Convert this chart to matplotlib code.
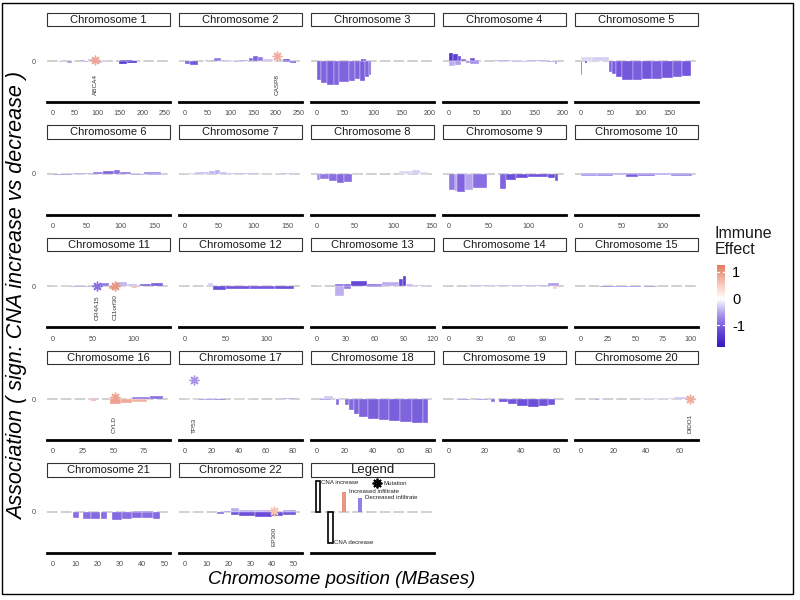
import matplotlib
matplotlib.use("Agg")
import matplotlib.pyplot as plt
from matplotlib.colors import LinearSegmentedColormap, Normalize
from matplotlib.cm import ScalarMappable
from matplotlib.patches import Rectangle

plt.rcParams['font.family'] = ['Liberation Sans', 'DejaVu Sans']
plt.rcParams['axes.unicode_minus'] = False

# ---------------- data ----------------
# chromosome lengths (Mb) and x tick steps
chrom_len = [249, 245, 198, 196, 188, 165, 163, 146, 140, 136, 138, 136,
             116, 107, 102, 92, 83, 80, 62, 68, 50, 51]
tick_step = [50, 50, 50, 50, 50, 50, 50, 50, 50, 50, 50, 50,
             30, 30, 25, 25, 20, 20, 20, 20, 10, 10]

# segments: (start Mb, end Mb, association, immune effect)
seg_1 = [(14, 22, -0.12, -0.6), (22, 30, 0.10, -0.5), (32, 44, -0.15, -0.7),
         (63, 70, 0.15, -0.9), (70, 78, -0.10, -0.7), (78, 92, 0.20, -0.4),
         (92, 110, -0.20, -0.5), (110, 123, -0.12, -0.4), (148, 165, -0.25, -1.6),
         (165, 188, -0.20, -1.7), (150, 180, 0.08, -1.5)]
seg_2 = [(0, 12, -0.30, -1.1), (12, 29, -0.38, -1.2), (44, 52, 0.06, -0.6),
         (58, 65, 0.12, -0.8), (65, 80, 0.35, -0.9), (80, 95, 0.15, -0.5),
         (95, 107, 0.10, -0.4), (107, 120, -0.08, -0.6), (120, 138, 0.12, -0.7),
         (141, 150, 0.30, -1.0), (150, 160, 0.55, -1.1), (160, 172, 0.40, -0.9),
         (172, 193, 0.20, -0.35), (216, 232, 0.20, -1.2), (232, 245, -0.15, -1.3),
         (216, 240, -0.12, -1.1)]
seg_3 = [(0, 7, -1.9, -1.1), (7, 18, -2.2, -1.1), (18, 31, -2.35, -1.15),
         (31, 39, -2.4, -1.1), (39, 57, -2.1, -1.1), (57, 68, -1.95, -1.05),
         (68, 77, -1.75, -1.1), (77, 86, -1.95, -1.15), (86, 92, -1.6, -1.1),
         (92, 96, -1.4, -1.0), (78, 84, 0.25, -1.5), (84, 88, 0.18, -1.3)]
seg_4 = [(0, 8, 0.8, -1.65), (8, 16, 0.7, -1.5), (16, 22, 0.5, -1.3),
         (0, 12, -0.45, -0.5), (12, 22, -0.35, -0.6), (22, 30, 0.25, -1.0),
         (30, 37, -0.15, -0.8), (37, 46, 0.35, -1.2), (46, 53, 0.15, -1.0),
         (37, 53, -0.25, -0.7), (80, 110, 0.06, -0.6), (110, 140, -0.08, -0.5),
         (140, 170, 0.06, -0.6), (170, 192, -0.12, -0.7), (186, 190, -0.3, -0.6)]
seg_5 = [(0, 20, 0.45, -0.25), (20, 48, 0.40, -0.3), (1, 3, -1.4, -1.2),
         (8, 11, -0.15, -1.7), (47, 52, -1.1, -1.1), (52, 59, -1.3, -1.15),
         (59, 70, -1.55, -1.2), (70, 88, -1.85, -1.2), (88, 104, -1.9, -1.15),
         (104, 120, -1.8, -1.2), (120, 137, -1.75, -1.15), (137, 155, -1.65, -1.2),
         (155, 171, -1.6, -1.15), (171, 186, -1.5, -1.2)]
seg_6 = [(0, 30, -0.1, -0.8), (30, 60, 0.1, -0.6), (60, 75, 0.15, -0.9),
         (75, 90, 0.25, -1.1), (90, 100, 0.35, -1.0), (100, 115, 0.15, -0.9),
         (115, 135, -0.1, -0.7), (135, 160, 0.15, -0.8), (140, 160, -0.1, -0.7)]
seg_7 = [(0, 15, 0.12, -0.35), (15, 35, 0.20, -0.4), (35, 45, 0.25, -0.45),
         (45, 52, 0.35, -0.5), (52, 62, 0.15, -0.4), (62, 80, 0.10, -0.45),
         (80, 110, 0.05, -0.5), (110, 140, -0.05, -0.6), (140, 160, 0.06, -0.5)]
seg_8 = [(0, 4, -0.65, -0.7), (4, 16, -0.55, -0.9), (16, 26, -0.75, -1.0),
         (26, 36, -0.9, -1.05), (36, 46, -0.85, -1.0), (50, 56, 0.06, -0.5),
         (108, 125, 0.25, -0.25), (125, 135, 0.35, -0.3), (135, 145, 0.15, -0.25)]
seg_9 = [(0, 8, -1.65, -0.9), (8, 11, -1.75, -0.6), (11, 21, -1.8, -1.1),
         (21, 30, -1.6, -0.55), (30, 48, -1.45, -1.0), (64, 72, -1.55, -1.1),
         (72, 85, -0.6, -1.3), (85, 100, -0.4, -1.3), (100, 125, -0.35, -1.25),
         (125, 133, -0.45, -1.3), (133, 137, -0.7, -1.2)]
seg_10 = [(0, 20, -0.2, -0.7), (20, 40, -0.25, -0.8), (40, 55, -0.15, -0.7),
          (55, 70, -0.3, -1.15), (70, 90, -0.2, -0.9), (90, 110, -0.12, -0.8),
          (110, 135, -0.2, -0.85), (0, 135, 0.05, -0.6)]
seg_11 = [(0, 20, 0.05, -0.5), (20, 48, -0.06, -0.6), (48, 58, 0.1, -0.9),
          (58, 70, 0.3, -0.9), (70, 78, -0.3, 0.95), (78, 92, 0.4, -0.45),
          (92, 104, 0.25, -0.4), (98, 104, -0.12, 0.7), (108, 122, 0.25, -1.1),
          (122, 136, 0.35, -1.15)]
seg_12 = [(29, 35, 0.3, -0.3), (35, 50, -0.35, -1.3), (50, 80, -0.3, -1.25),
          (80, 110, -0.25, -1.2), (110, 133, -0.3, -1.3)]
seg_13 = [(1, 4, 0.15, -0.4), (19, 28, -0.95, -0.5), (19, 28, 0.25, -1.0),
          (28, 36, -0.3, -0.9), (28, 36, 0.2, -1.1), (36, 52, 0.5, -1.4),
          (52, 68, 0.2, -1.0), (52, 68, -0.1, -0.8), (68, 86, 0.45, -0.5),
          (86, 90, 0.7, -1.4), (90, 93, 1.0, -1.5), (93, 100, 0.25, -0.45),
          (100, 115, 0.15, -0.4)]
seg_14 = [(20, 40, 0.12, -0.5), (40, 60, 0.1, -0.45), (60, 80, 0.15, -0.5),
          (80, 95, 0.12, -0.55), (95, 106, 0.3, -0.6), (100, 104, -0.3, 0.5)]
seg_15 = [(18, 30, -0.08, -0.9), (30, 45, -0.1, -0.8), (45, 55, -0.06, -0.9),
          (58, 70, -0.1, -0.85)]
seg_16 = [(32, 36, -0.2, 0.8), (47, 56, -0.45, 0.95), (56, 65, -0.4, 0.9),
          (65, 78, -0.25, 0.8), (65, 80, 0.25, -0.9), (80, 91, 0.3, -1.0)]
seg_17 = [(0, 10, 0.05, -0.7), (10, 22, -0.08, -0.8), (22, 31, -0.12, -1.0),
          (35, 50, 0.04, -0.6), (72, 82, 0.15, -0.6)]
seg_18 = [(0, 5, 0.15, -0.5), (5, 12, 0.3, -0.35), (2, 10, -0.12, -0.8),
          (14, 16, -0.6, -1.0), (16, 20, 0.12, -0.4), (20, 23, -0.6, -1.0),
          (23, 27, -1.1, -1.05), (27, 30, -1.5, -1.1), (30, 37, -1.8, -1.1),
          (37, 45, -2.0, -1.15), (45, 52, -2.1, -1.1), (52, 60, -2.15, -1.15),
          (60, 68, -2.25, -1.1), (68, 76, -2.35, -1.15), (76, 80, -2.4, -1.1)]
seg_19 = [(5, 12, -0.05, -0.8), (15, 22, -0.05, -0.8), (23.5, 26, -0.25, -1.0),
          (28, 33, -0.3, -1.2), (33, 38, -0.5, -1.25), (38, 44, -0.65, -1.3),
          (44, 50, -0.8, -1.3), (50, 55, -0.7, -1.25), (55, 59, -0.55, -1.2)]
seg_20 = [(9, 11, -0.1, -0.9), (36, 47, 0.08, -0.3), (47, 57, 0.12, -0.3),
          (57, 65, 0.18, -0.35)]
seg_21 = [(9, 12, -0.6, -1.0), (13.7, 17, -0.7, -1.0), (17, 21, -0.72, -1.05),
          (21.6, 24.5, -0.7, -1.0), (26.4, 31, -0.8, -1.05), (31, 35.4, -0.75, -1.0),
          (35.4, 40, -0.65, -1.05), (40, 45, -0.6, -1.0), (45, 48, -0.75, -1.05),
          (36, 45, 0.08, -0.8)]
seg_22 = [(15, 18, -0.2, -1.0), (18, 21, 0.1, -0.8), (21, 25, 0.35, -0.5),
          (21, 25, -0.3, -1.2), (25, 32, 0.2, -0.55), (25, 32, -0.4, -1.3),
          (32, 40, 0.15, -0.5), (32, 40, -0.5, -1.35), (40, 45, -0.45, -1.3),
          (45, 51, 0.15, -0.6), (45, 51, -0.3, -1.2)]
segments = [seg_1, seg_2, seg_3, seg_4, seg_5, seg_6, seg_7, seg_8, seg_9, seg_10, seg_11,
            seg_12, seg_13, seg_14, seg_15, seg_16, seg_17, seg_18, seg_19, seg_20, seg_21, seg_22]

# mutations
mut_chrom = [1, 2, 11, 11, 16, 17, 20, 22]
mut_pos = [94.5, 203, 55, 77, 51, 7.2, 66.3, 40.8]
mut_height = [0.1, 0.5, 0.05, 0.05, 0.2, 1.9, 0.05, 0.05]
mut_effect = [0.85, 0.8, -0.9, 1.0, 0.9, -0.6, 0.8, 0.6]
mut_gene = ["ABCA4", "CASP8", "OR4A15", "C11orf30", "CYLD", "TP53", "DIDO1", "EP300"]

# legend panel content
leg_len = 80
leg_cna_x = [1, 10]
leg_cna_h = [3.1, -3.1]
leg_cna_txt = ["CNA increase", "CNA decrease"]
leg_inf_x = [19.5, 31]
leg_inf_h = [2.0, 1.4]
leg_inf_eff = [1.0, -0.8]
leg_inf_txt = ["Increased infiltrate", "Decreased infiltrate"]

# colour scale
eff_min, eff_max = -1.81, 1.26
cmap_vals = [-1.81, -1.2, -0.6, 0.0, 0.6, 1.26]
cmap_cols = ["#3616C4", "#6A4AD9", "#A996EA", "#FFFFFF", "#F5C3B5", "#E57A62"]

# ---------------- layout ----------------
W, H = 800, 600
fig = plt.figure(figsize=(8, 6), dpi=100)
fx = lambda px: px / W
fy = lambda py: 1 - py / H

norm = Normalize(eff_min, eff_max)
cmap = LinearSegmentedColormap.from_list(
    "imm", [((v - eff_min) / (eff_max - eff_min), c) for v, c in zip(cmap_vals, cmap_cols)])

col_left = [47, 179, 311, 443, 575]
panel_w = 123
zero0, pitch = 61, 112.7
above, below = 35, 41
strip_h = 13.5
y_top, y_bot = above / 10, -below / 10
tick_col = "#4D4D4D"
star = (8, 2, 0)


def make_panel(k, title, L, step, show_xt, strip_fs=8):
    row, col = divmod(k, 5)
    zero = zero0 + pitch * row
    left = col_left[col]
    ax = fig.add_axes([fx(left), fy(zero + below), fx(panel_w), (above + below) / H])
    ax.set_xlim(-0.05 * L, 1.05 * L)
    ax.set_ylim(y_bot, y_top)
    for s in ["top", "left", "right"]:
        ax.spines[s].set_visible(False)
    ax.spines["bottom"].set_linewidth(2)
    ax.spines["bottom"].set_color("black")
    ax.patch.set_alpha(0)
    if show_xt:
        ax.set_xticks(list(range(0, int(1.05 * L) + 1, step)))
    else:
        ax.set_xticks([])
    ax.tick_params(axis="x", length=0, labelsize=5.2, labelcolor=tick_col, pad=6)
    if col == 0:
        ax.set_yticks([0])
        ax.set_yticklabels(["0"])
        ax.tick_params(axis="y", length=0, labelsize=5.2, labelcolor=tick_col, pad=8)
    else:
        ax.set_yticks([])
    ax.axhline(0, color="#C4C4C4", lw=1.1, dashes=(7, 2), zorder=1)

    # strip
    sax = fig.add_axes([fx(left), fy(zero - above), fx(panel_w), strip_h / H])
    sax.axis("off")
    sax.add_patch(Rectangle((0, 0), 1, 1, transform=sax.transAxes, fc="white",
                            ec="#333333", lw=0.8, clip_on=False))
    sax.text(0.5, 0.48, title, ha="center", va="center", fontsize=strip_fs, color="#1A1A1A")
    return ax


for i in range(22):
    ax = make_panel(i, f"Chromosome {i + 1}", chrom_len[i], tick_step[i], True)
    for s, e, h, eff in segments[i]:
        ax.bar(s, h, width=e - s, align="edge", color=cmap(norm(eff)), ec="white",
               lw=0.25, alpha=0.92, zorder=2)
    for c, p, h, eff, g in zip(mut_chrom, mut_pos, mut_height, mut_effect, mut_gene):
        if c == i + 1:
            ax.plot(p, h, marker=star, ms=7, mew=1.0, color=cmap(norm(eff)), zorder=4)
            ax.text(p, -3.4, g, rotation=90, ha="center", va="bottom",
                    fontsize=4.6, color="#333333")

# legend panel
ax = make_panel(22, "Legend", leg_len, 20, False, strip_fs=9.5)
for x, h, t in zip(leg_cna_x, leg_cna_h, leg_cna_txt):
    ax.bar(x, h, width=3, color="white", ec="black", lw=1.2, zorder=3)
    ax.text(x + 2.5, h - 0.15 if h > 0 else h + 0.05, t, fontsize=4.4,
            ha="left", va="center", color="#222222")
for x, h, eff, t in zip(leg_inf_x, leg_inf_h, leg_inf_eff, leg_inf_txt):
    ax.bar(x, h, width=3, color=cmap(norm(eff)), lw=0, zorder=3)
    ax.text(x + 3.5, h + 0.05, t, fontsize=4.4, ha="left", va="center", color="#222222")
ax.plot(43, 2.9, marker=star, ms=7, mew=1.3, color="black", zorder=4)
ax.text(48, 2.8, "Mutation", fontsize=4.4, ha="left", va="center", color="#222222")

# colour bar
cax = fig.add_axes([fx(717), fy(347), fx(8), 82 / H])
cb = fig.colorbar(ScalarMappable(norm, cmap), cax=cax, ticks=[-1, 0, 1])
cb.outline.set_visible(False)
cax.tick_params(length=0, labelsize=10.5, pad=5)
for v in [-1, 0, 1]:
    cax.plot([0, 0.2], [v, v], color="white", lw=0.8)
    cax.plot([0.8, 1], [v, v], color="white", lw=0.8)
fig.text(fx(715), fy(226), "Immune\nEffect", ha="left", va="top", fontsize=11.5,
         linespacing=1.05, color="#1A1A1A")

# axis titles
fig.text(fx(342), fy(579), "Chromosome position (MBases)", ha="center", va="center",
         fontsize=13.5, style="italic")
fig.text(fx(18), fy(296), "Association ( sign: CNA increase vs decrease )", ha="center",
         va="center", rotation=90, fontsize=15.5, style="italic")

# outer frame
fig.patches.append(Rectangle((fx(2), fy(594)), fx(791), 591 / H, transform=fig.transFigure,
                             fill=False, ec="black", lw=1))

fig.savefig("out.png", dpi=100)
